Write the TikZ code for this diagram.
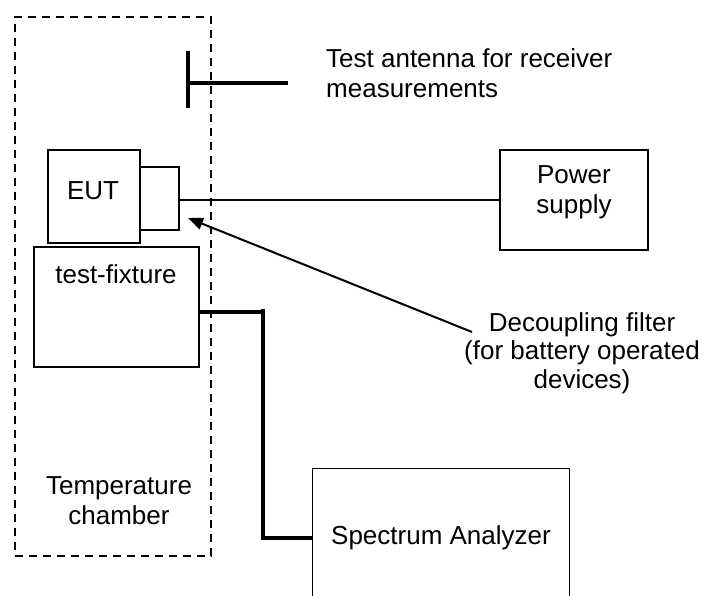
\documentclass[tikz,border=0pt]{standalone}
\usepackage{fontspec}
\setmainfont{Liberation Sans}
\usetikzlibrary{arrows.meta}
\begin{document}
\begin{tikzpicture}[x=1pt,y=-1pt,
  box/.style={draw, line width=1.3pt, inner sep=0pt},
  txt/.style={inner sep=0pt, align=center, font=\fontsize{26}{30}\selectfont},
  chamberline/.style={draw, line width=1.5pt, dash pattern=on 8pt off 6pt},
  thickwire/.style={line width=3.3pt, line join=miter},
  antline/.style={line width=3.5pt},
  thinwire/.style={line width=1.2pt},
  pointer/.style={line width=2pt, -{Triangle[length=15pt,width=12pt]}}]
\useasboundingbox (0,0) rectangle (715,595);

% temperature chamber
\node[chamberline, inner sep=0pt, minimum width=196pt, minimum height=539pt] (chamber) at (113,286.5) {};
\node[txt] (chambertxt) at (119,501) {Temperature\\chamber};

% antenna
\coordinate (antTop) at (188,51);
\coordinate (antBot) at (188,108);
\coordinate (antEnd) at (288,83);
\draw[antline] (antTop) -- (antBot);
\draw[antline] (antTop |- antEnd) -- (antEnd);
\node[txt, align=left, anchor=north west] (anttxt) at (326,48) {Test antenna for receiver\\measurements};

% EUT and filter
\node[box, minimum width=92pt, minimum height=93pt] (eut) at (94,196.5) {};
\node[txt] (euttxt) at (93,191) {EUT};
\node[box, minimum width=39pt, minimum height=63pt] (filt) at (159.5,198.5) {};

% test fixture
\node[box, minimum width=165pt, minimum height=120pt] (fix) at (116.5,307) {};
\node[txt, anchor=base] (fixtxt) at (116,283) {test-fixture};

% power supply
\node[box, minimum width=148pt, minimum height=100pt] (ps) at (574,200) {};
\node[txt] (pstxt) at (574,192.5) {Power\\supply};
\draw[thinwire] (ps.west) -- (ps.west -| filt.east);

% spectrum analyzer (bottom edge outside the picture)
\node[txt, minimum width=256pt, minimum height=138pt] (sa) at (441,538) {Spectrum Analyzer};
\coordinate (bot) at (0,597);
\draw[line width=1.3pt] (sa.west |- bot) |- (sa.north east) -- (sa.east |- bot);

% RF cable from fixture to spectrum analyzer
\coordinate (corner) at (263,312);
\coordinate (cornerTop) at (263,308.5);
\draw[thickwire] (fix.east |- corner) -- (corner);
\draw[thickwire] (cornerTop) -- (cornerTop |- sa.west) -- (sa.west);

% decoupling filter label and arrow
\node[txt, anchor=north, font=\fontsize{26}{28.5}\selectfont] (dectxt) at (582,312) {Decoupling filter\\(for battery operated\\devices)};
\coordinate (arrStart) at (472,332);
\coordinate (arrEnd) at (188,218);
\draw[pointer] (arrStart) -- (arrEnd);
\end{tikzpicture}
\end{document}
